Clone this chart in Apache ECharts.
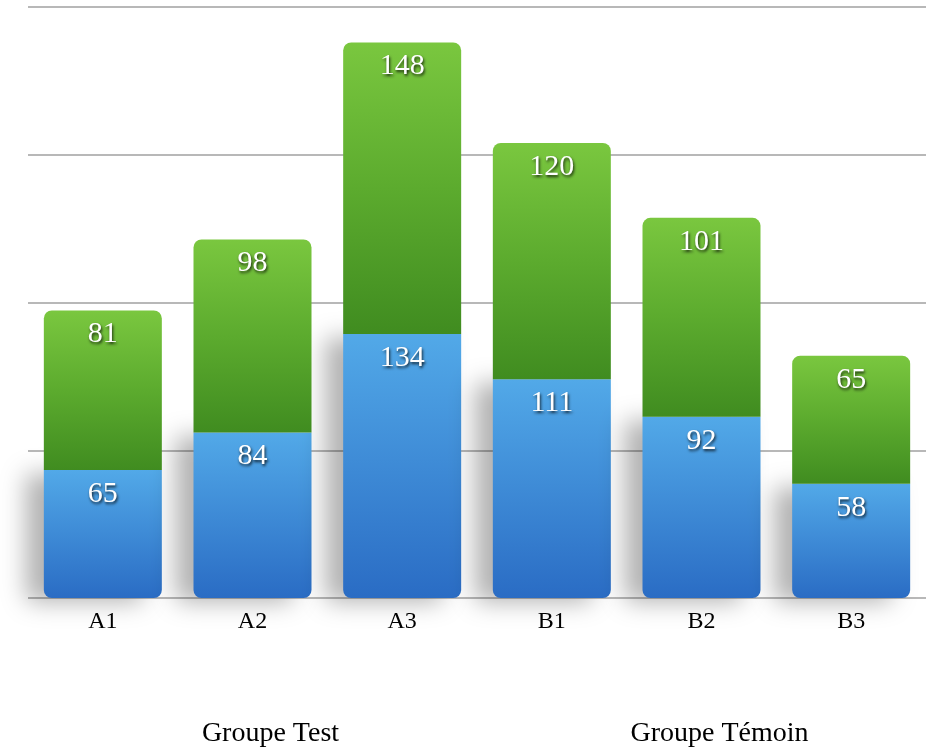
<!DOCTYPE html>
<html>
<head>
<meta charset="utf-8">
<script src="https://cdn.jsdelivr.net/npm/echarts@6/dist/echarts.min.js"></script>
<style>
  html, body { margin: 0; padding: 0; background: #fff; }
  #chart { width: 951px; height: 751px; }
</style>
</head>
<body>
<div id="chart"></div>
<script>
var categories = ['A1', 'A2', 'A3', 'B1', 'B2', 'B3'];
var groups = ['Groupe Test', 'Groupe Témoin'];
var bottomValues = [65, 84, 134, 111, 92, 58];
var topValues = [81, 98, 148, 120, 101, 65];

var myChart = echarts.init(document.getElementById('chart'));

var labelStyle = {
  show: true,
  position: 'insideTop',
  distance: 9,
  color: '#fff',
  fontFamily: 'Liberation Serif',
  fontSize: 30,
  textShadowColor: 'rgba(0,0,0,0.8)',
  textShadowBlur: 3,
  textShadowOffsetX: 1,
  textShadowOffsetY: 2
};

var option = {
  animation: false,
  grid: {
    left: 28,
    right: 25,
    top: 7,
    bottom: 153
  },
  xAxis: [
    {
      type: 'category',
      data: categories,
      axisLine: { show: false },
      axisTick: { show: false },
      axisLabel: {
        color: '#000',
        fontFamily: 'Liberation Serif',
        fontSize: 24,
        margin: 12
      }
    },
    {
      type: 'category',
      data: groups,
      position: 'bottom',
      offset: 122,
      axisLine: { show: false },
      axisTick: { show: false },
      axisLabel: {
        color: '#000',
        fontFamily: 'Liberation Serif',
        fontSize: 28,
        margin: 0,
        padding: [0, 0, 0, 36]
      }
    }
  ],
  yAxis: {
    type: 'value',
    min: 0,
    max: 300,
    interval: 75,
    axisLine: { show: false },
    axisTick: { show: false },
    axisLabel: { show: false },
    splitLine: {
      lineStyle: { color: '#b8b8b8', width: 2 }
    }
  },
  series: [
    {
      name: 'bas',
      type: 'bar',
      stack: 'total',
      data: bottomValues,
      barWidth: 118,
      label: labelStyle,
      itemStyle: {
        borderRadius: [0, 0, 8, 8],
        color: new echarts.graphic.LinearGradient(0, 0, 0, 1, [
          { offset: 0, color: '#52a9e8' },
          { offset: 1, color: '#2a6cc4' }
        ]),
        shadowColor: 'rgba(0,0,0,0.3)',
        shadowBlur: 25,
        shadowOffsetX: -18,
        shadowOffsetY: 4
      }
    },
    {
      name: 'haut',
      type: 'bar',
      stack: 'total',
      data: topValues,
      barWidth: 118,
      label: labelStyle,
      itemStyle: {
        borderRadius: [8, 8, 0, 0],
        color: new echarts.graphic.LinearGradient(0, 0, 0, 1, [
          { offset: 0, color: '#7ac73f' },
          { offset: 0.5, color: '#5cab2e' },
          { offset: 1, color: '#408c20' }
        ])
      }
    }
  ]
};

myChart.setOption(option);
window.addEventListener('resize', function () {
  myChart.resize();
});
</script>
</body>
</html>
